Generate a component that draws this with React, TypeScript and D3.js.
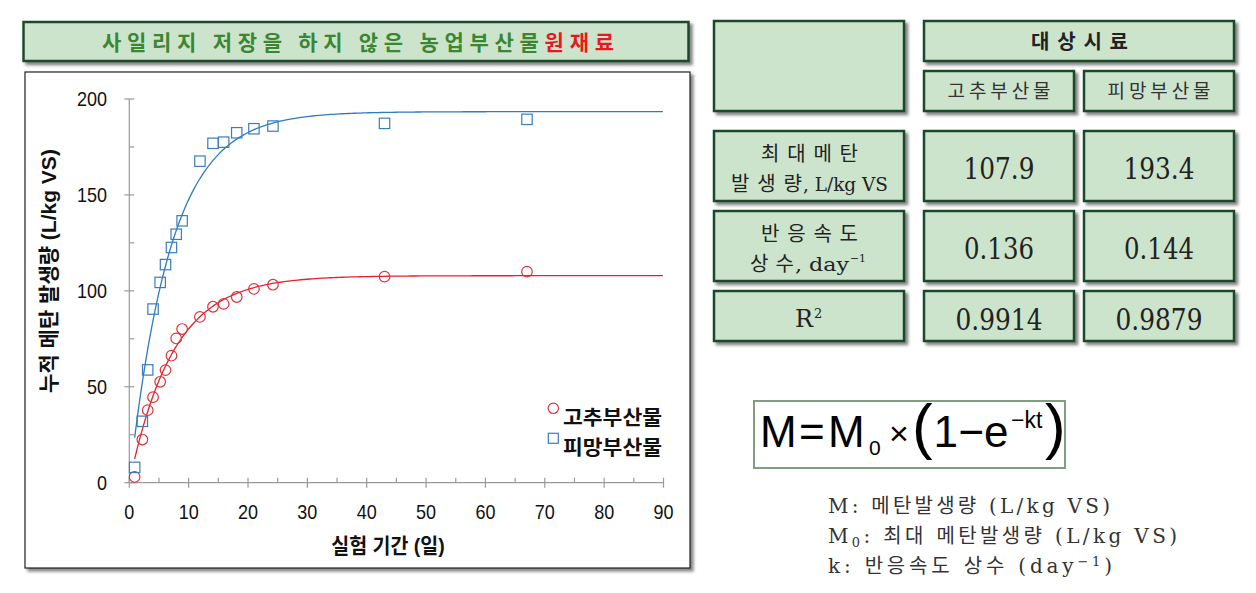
import React from 'react';
import * as d3 from 'd3';

// ---------- data ----------
const days = [0.9, 2.2, 3.1, 4, 5.2, 6.1, 7.1, 7.9, 8.9, 11.9, 14.1, 15.9, 18.1, 21, 24.2, 43, 67];
const pepperByproduct = [3.0, 22.5, 37.8, 44.6, 52.6, 58.7, 66.2, 75.2, 80.1, 86.4, 91.7, 93.2, 96.8, 101, 103.2, 107.4, 110];
const bellPepperByproduct = [8.0, 32, 58.8, 90.5, 104.4, 113.7, 122.6, 129.5, 136.5, 167.6, 176.9, 177.5, 182.4, 184.5, 185.9, 187.3, 189.4];
const sampleNames = ['고추부산물', '피망부산물'];
const maxMethane = [107.9, 193.4];
const rateConstant = [0.136, 0.144];
const rSquared = [0.9914, 0.9879];
const xTicks = [0, 10, 20, 30, 40, 50, 60, 70, 80, 90];
const xMinorTicks = [5, 15, 25, 35, 45, 55, 65, 75, 85];
const yTicks = [0, 50, 100, 150, 200];
const yMinorTicks = [25, 75, 125, 175];

const RED = '#e2323a';
const BLUE = '#3a7cbf';
const CELL_FILL = '#cce4cc';
const CELL_STROKE = '#1f4a2a';
const KR = '"Noto Sans CJK KR", sans-serif';
const SANS = '"Liberation Sans", Arial, "Noto Sans CJK KR", sans-serif';
const SERIF = '"DejaVu Serif", serif';

const x = d3.scaleLinear().domain([0, 90]).range([129.3, 663.5]);
const y = d3.scaleLinear().domain([0, 200]).range([482.7, 99]);

function curvePoints(m0: number, k: number) {
  const pts: [number, number][] = [];
  for (let t = days[0]; t <= 90.001; t += 0.5) pts.push([t, m0 * (1 - Math.exp(-k * t))]);
  return pts;
}

const line = d3.line<[number, number]>().x(d => x(d[0])).y(d => y(d[1]));

function Cell({ x0, y0, w, h }: { x0: number; y0: number; w: number; h: number }) {
  return <rect x={x0} y={y0} width={w} height={h} fill={CELL_FILL} stroke={CELL_STROKE} strokeWidth={2.5} filter="url(#shadow)" />;
}

export default function App() {
  const colX = [924, 1084];
  const colW = 150;
  const colC = colX.map(c => c + colW / 2);
  return (
    <svg width={1256} height={593} style={{ position: 'absolute', left: 0, top: 0, background: '#fff' }}>
      <defs>
        <filter id="shadow" x="-5%" y="-5%" width="115%" height="125%">
          <feDropShadow dx={3} dy={3} stdDeviation={1.6} floodColor="#333" floodOpacity={0.6} />
        </filter>
      </defs>

      {/* title */}
      <rect x={23.5} y={22} width={665} height={39} fill={CELL_FILL} stroke={CELL_STROKE} strokeWidth={2.5} filter="url(#shadow)" />
      <text x={102} y={50} fontFamily={KR} fontWeight={700} fontSize={21} textLength={512} lengthAdjust="spacing" fill="#3a8633">
        사일리지 저장을 하지 않은 농업부산물<tspan fill="#e8191e">원재료</tspan>
      </text>

      {/* chart box */}
      <rect x={25} y={72} width={665} height={496} fill="#fff" stroke="#222" strokeWidth={1.2} filter="url(#shadow)" />

      {/* axes */}
      <g stroke="#9a9a9a" strokeWidth={1.2}>
        <line x1={x(0)} x2={x(0)} y1={y(200)} y2={y(0)} />
        <line x1={x(0)} x2={x(90)} y1={y(0)} y2={y(0)} />
        {yTicks.map(v => <line key={'yt' + v} x1={x(0) - 5} x2={x(0) + 5} y1={y(v)} y2={y(v)} />)}
        {yMinorTicks.map(v => <line key={'ym' + v} x1={x(0)} x2={x(0) + 5} y1={y(v)} y2={y(v)} />)}
        {xTicks.map(v => <line key={'xt' + v} x1={x(v)} x2={x(v)} y1={y(0) - 5} y2={y(0) + 5} />)}
        {xMinorTicks.map(v => <line key={'xm' + v} x1={x(v)} x2={x(v)} y1={y(0) - 5} y2={y(0)} />)}
      </g>
      {yTicks.map(v => (
        <text key={'yl' + v} transform={`translate(107,${y(v) + 7}) scale(0.9,1)`} textAnchor="end" fontFamily={SANS} fontSize={20} fill="#111">{v}</text>
      ))}
      {xTicks.map(v => (
        <text key={'xl' + v} transform={`translate(${x(v)},519) scale(0.9,1)`} textAnchor="middle" fontFamily={SANS} fontSize={20} fill="#111">{v}</text>
      ))}
      <text transform="translate(56,271) rotate(-90)" textAnchor="middle" fontFamily={SANS} fontWeight={700} fontSize={21} fill="#111">누적 메탄 발생량 (L/kg VS)</text>
      <text transform="translate(388,553) scale(0.93,1)" textAnchor="middle" fontFamily={SANS} fontWeight={700} fontSize={21} fill="#111">실험 기간 (일)</text>

      {/* fitted curves */}
      <path d={line(curvePoints(maxMethane[0], rateConstant[0])) || ''} fill="none" stroke="#e4222c" strokeWidth={1.3} />
      <path d={line(curvePoints(maxMethane[1], rateConstant[1])) || ''} fill="none" stroke="#2f7bc1" strokeWidth={1.3} />

      {/* markers */}
      {days.map((d, i) => (
        <circle key={'c' + i} cx={x(d)} cy={y(pepperByproduct[i])} r={5.3} fill="none" stroke={RED} strokeWidth={1.2} />
      ))}
      {days.map((d, i) => (
        <rect key={'s' + i} x={x(d) - 5.2} y={y(bellPepperByproduct[i]) - 5.2} width={10.4} height={10.4} fill="none" stroke={BLUE} strokeWidth={1.2} />
      ))}

      {/* legend */}
      <circle cx={553.3} cy={408.3} r={5.2} fill="none" stroke={RED} strokeWidth={1.2} />
      <text x={563} y={425} fontFamily={KR} fontWeight={700} fontSize={20} textLength={99} lengthAdjust="spacingAndGlyphs" fill="#111">{sampleNames[0]}</text>
      <rect x={548.3} y={433.3} width={10} height={10} fill="none" stroke={BLUE} strokeWidth={1.2} />
      <text x={563} y={455} fontFamily={KR} fontWeight={700} fontSize={20} textLength={99} lengthAdjust="spacingAndGlyphs" fill="#111">{sampleNames[1]}</text>

      {/* table */}
      <Cell x0={714} y0={21} w={190} h={90} />
      <Cell x0={924} y0={21} w={310} h={40} />
      <Cell x0={924} y0={71} w={150} h={40} />
      <Cell x0={1084} y0={71} w={150} h={40} />
      <Cell x0={714} y0={131} w={190} h={70} />
      <Cell x0={924} y0={131} w={150} h={70} />
      <Cell x0={1084} y0={131} w={150} h={70} />
      <Cell x0={714} y0={211} w={190} h={70} />
      <Cell x0={924} y0={211} w={150} h={70} />
      <Cell x0={1084} y0={211} w={150} h={70} />
      <Cell x0={714} y0={291} w={190} h={50} />
      <Cell x0={924} y0={291} w={150} h={50} />
      <Cell x0={1084} y0={291} w={150} h={50} />

      <text x={1031} y={48.5} fontFamily={KR} fontWeight={700} fontSize={20} textLength={97} lengthAdjust="spacing" fill="#222">대상시료</text>
      {sampleNames.map((n, i) => (
        <text key={'sn' + i} x={colC[i] - 51.5} y={98} fontFamily={KR} fontSize={19} textLength={103} lengthAdjust="spacing" fill="#333">{n}</text>
      ))}

      <text x={761} y={160.5} fontFamily={KR} fontSize={20} textLength={97} lengthAdjust="spacing" fill="#222">최대메탄</text>
      <text x={731} y={190.5} fontFamily={KR} fontSize={20} textLength={71} lengthAdjust="spacing" fill="#222">발생량</text>
      <text x={803} y={190.5} fontFamily={SERIF} fontSize={18} textLength={85} lengthAdjust="spacingAndGlyphs" fill="#222">, L/kg VS</text>

      <text x={761} y={240.8} fontFamily={KR} fontSize={20} textLength={97} lengthAdjust="spacing" fill="#222">반응속도</text>
      <text x={750} y={270.8} fontFamily={KR} fontSize={20} textLength={44} lengthAdjust="spacing" fill="#222">상수</text>
      <text x={795} y={270.8} fontFamily={SERIF} fontSize={18} textLength={54} lengthAdjust="spacingAndGlyphs" fill="#222">, day</text>
      <text x={850} y={262} fontFamily={SERIF} fontSize={11} textLength={16} lengthAdjust="spacingAndGlyphs" fill="#222">−1</text>

      <text x={795} y={327} fontFamily={SERIF} fontSize={25} textLength={18} lengthAdjust="spacingAndGlyphs" fill="#222">R</text>
      <text x={814} y={318} fontFamily={SERIF} fontSize={13} fill="#222">2</text>

      {maxMethane.map((v, i) => (
        <text key={'m' + i} x={colC[i]} y={178.5} textAnchor="middle" fontFamily={SERIF} fontSize={29} textLength={71} lengthAdjust="spacingAndGlyphs" fill="#222">{v.toFixed(1)}</text>
      ))}
      {rateConstant.map((v, i) => (
        <text key={'k' + i} x={colC[i]} y={259} textAnchor="middle" fontFamily={SERIF} fontSize={29} textLength={70} lengthAdjust="spacingAndGlyphs" fill="#222">{v.toFixed(3)}</text>
      ))}
      {rSquared.map((v, i) => (
        <text key={'r' + i} x={colC[i]} y={330} textAnchor="middle" fontFamily={SERIF} fontSize={29} textLength={87} lengthAdjust="spacingAndGlyphs" fill="#222">{v.toFixed(4)}</text>
      ))}

      {/* formula */}
      <rect x={754} y={401} width={311} height={67} fill="#fff" stroke="#7f9f80" strokeWidth={2} />
      <text fontFamily={SANS} fill="#000" fontSize={44}>
        <tspan x={760} y={447}>M</tspan>
        <tspan x={799} y={447}>=</tspan>
        <tspan x={828} y={447}>M</tspan>
        <tspan x={869} y={455} fontSize={21}>0</tspan>
        <tspan x={889} y={445} fontSize={34}>×</tspan>
        <tspan x={912} y={447} fontSize={62}>(</tspan>
        <tspan x={933.5} y={447}>1</tspan>
        <tspan x={958.5} y={447}>−</tspan>
        <tspan x={984} y={447}>e</tspan>
        <tspan x={1011} y={428} fontSize={23}>−kt</tspan>
        <tspan x={1045} y={447} fontSize={62}>)</tspan>
      </text>

      {/* description */}
      <g fontFamily={`"DejaVu Serif", "Noto Sans CJK KR", serif`} fill="#333" fontSize={20}>
        <text x={828} y={513} textLength={282} lengthAdjust="spacing">M: 메탄발생량 (L/kg VS)</text>
        <text x={828} y={543} textLength={349} lengthAdjust="spacing">M<tspan fontSize={13} dy={4}>0</tspan><tspan dy={-4}>: 최대 메탄발생량 (L/kg VS)</tspan></text>
        <text x={828} y={573} textLength={284} lengthAdjust="spacing">k: 반응속도 상수 (day<tspan fontSize={13} dy={-7}>−1</tspan><tspan dy={7}>)</tspan></text>
      </g>
    </svg>
  );
}
